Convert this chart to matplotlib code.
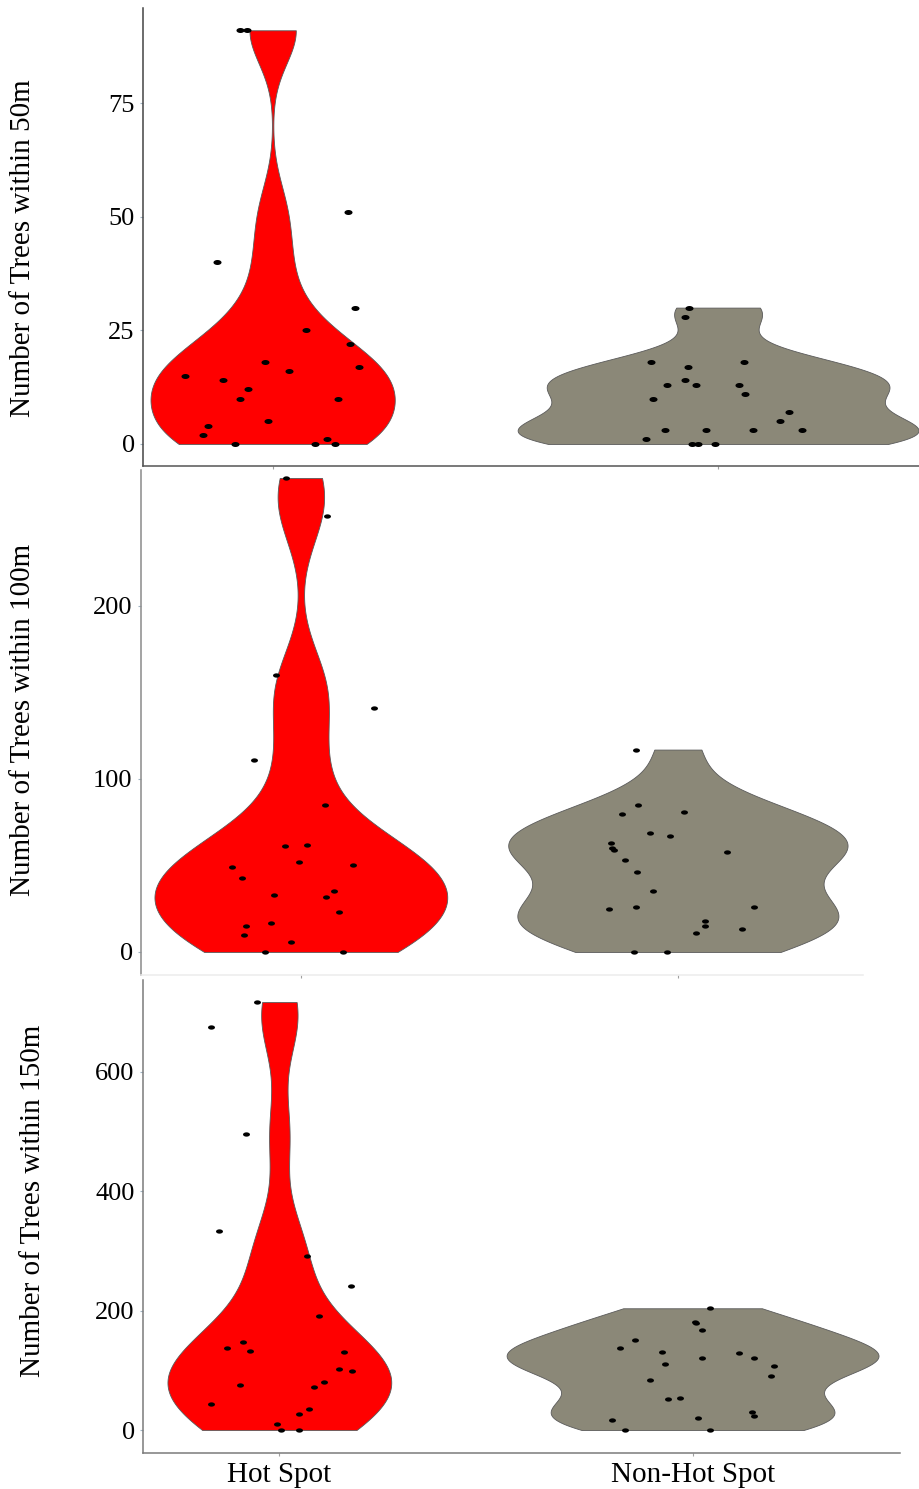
import numpy as np
import matplotlib
matplotlib.use("Agg")
import matplotlib.pyplot as plt
from matplotlib import mlab
from matplotlib.path import Path

plt.rcParams["font.family"] = ["Liberation Serif", "DejaVu Serif"]

# ── data: tree counts per site, split by hot spot status ─────────────────────
groups = ["Hot Spot", "Non-Hot Spot"]

hot_50 = [91, 91, 51, 40, 30, 25, 22, 18, 17, 16, 15, 14, 12, 10, 10, 5, 4, 2,
          0, 0, 1, 0]
non_50 = [30, 28, 18, 18, 17, 14, 13, 13, 13, 11, 10, 7, 5, 3, 3, 3, 3, 1,
          0, 0, 0]

hot_100 = [274, 252, 160, 141, 111, 85, 62, 61, 52, 50, 49, 43, 35, 33, 32,
           23, 17, 15, 10, 6, 0, 0]
non_100 = [117, 85, 81, 80, 69, 67, 63, 60, 59, 58, 53, 46, 35, 25, 26, 26,
           18, 15, 13, 11, 0, 0]

hot_150 = [717, 675, 496, 333, 292, 242, 191, 147, 137, 133, 131, 102, 99,
           81, 72, 76, 44, 36, 27, 10, 0, 0]
non_150 = [204, 181, 179, 168, 150, 137, 131, 129, 121, 120, 111, 108, 90,
           84, 54, 52, 31, 23, 20, 17, 0, 0]

# horizontal jitter of each point (category units), same order as the values
hot_50_jit = [-0.074, -0.058, 0.169, -0.124, 0.184, 0.076, 0.173, -0.018,
              0.193, 0.036, -0.196, -0.112, -0.056, -0.074, 0.146, -0.011,
              -0.146, -0.157, -0.085, 0.094, 0.121, 0.139]
non_50_jit = [-0.065, -0.074, -0.151, 0.058, -0.067, -0.075, -0.114, -0.049,
              0.046, 0.060, -0.147, 0.160, 0.139, -0.119, -0.028, 0.079,
              0.189, -0.162, -0.059, -0.044, -0.007]
hot_100_jit = [-0.040, 0.069, -0.066, 0.193, -0.125, 0.064, 0.016, -0.042,
               -0.005, 0.138, -0.183, -0.156, 0.087, -0.072, 0.066, 0.101,
               -0.079, -0.146, -0.151, -0.026, -0.095, 0.111]
non_100_jit = [-0.112, -0.107, 0.016, -0.148, -0.074, -0.022, -0.177, -0.174,
               -0.169, 0.131, -0.140, -0.109, -0.067, -0.182, -0.112, 0.201,
               0.073, 0.071, 0.169, 0.048, -0.117, -0.030]
hot_150_jit = [-0.054, -0.166, -0.080, -0.147, 0.067, 0.173, 0.096, -0.088,
               -0.127, -0.070, 0.157, 0.145, 0.175, 0.108, 0.083, -0.096,
               -0.166, 0.071, 0.048, -0.005, 0.005, 0.048]
non_150_jit = [0.041, 0.007, 0.009, 0.024, -0.139, -0.176, -0.074, 0.113,
               0.149, 0.024, -0.067, 0.197, 0.189, -0.102, -0.030, -0.059,
               0.144, 0.149, 0.012, -0.196, -0.164, 0.041]

y_labels = ["Number of Trees within 50m", "Number of Trees within 100m",
            "Number of Trees within 150m"]
y_ticks = [[0, 25, 50, 75], [0, 100, 200], [0, 200, 400, 600]]

FILL = ["#FF0000", "#8B8878"]

# ── layout (figure pixels) ───────────────────────────────────────────────────
W, H = 919, 1489
panels = [
    dict(box=(143, 919, 8, 466), xlim=(0.709, 2.451), ylim=(-4.84, 95.9),
         spine="#444444", xspine="#555555", lab=(23, 248), ms=5.8),
    dict(box=(141, 863, 470, 975), xlim=(0.576, 2.491), ylim=(-13.3, 278.6),
         spine="#8a8a8a", xspine="#ececec", lab=(23, 720), ms=5.0),
    dict(box=(143, 900, 980, 1453), xlim=(0.670, 2.502), ylim=(-38.5, 754.0),
         spine="#7a7a7a", xspine="#7a7a7a", lab=(33, 1201), ms=5.0),
]
data = [(hot_50, non_50, hot_50_jit, non_50_jit),
        (hot_100, non_100, hot_100_jit, non_100_jit),
        (hot_150, non_150, hot_150_jit, non_150_jit)]


def nrd0(kde):
    """Silverman's rule as in R's bw.nrd0, returned as a factor of the sd."""
    x = np.ravel(kde.dataset)
    sd = np.std(x, ddof=1)
    iqr = np.subtract(*np.percentile(x, [75, 25]))
    lo = min(sd, iqr / 1.34)
    if lo == 0:
        lo = sd
    return 0.9 * lo * len(x) ** -0.2 / sd


def area_widths(sets, full=0.9):
    """Violin widths proportional to peak density (ggplot's scale = 'area')."""
    peaks = []
    for v in sets:
        v = np.asarray(v, float)
        kde = mlab.GaussianKDE(v, nrd0)
        grid = np.linspace(v.min(), v.max(), 512)
        peaks.append(kde.evaluate(grid).max())
    peaks = np.array(peaks)
    return list(full * peaks / peaks.max())


# flattened ellipse for the jittered points
t = np.linspace(0, 2 * np.pi, 40)
dot = Path(np.c_[np.cos(t), 0.62 * np.sin(t)])

fig = plt.figure(figsize=(W / 100, H / 100), dpi=100)

for i, (p, (hv, nv, hj, nj)) in enumerate(zip(panels, data)):
    l, r, tp, bt = p["box"]
    ax = fig.add_axes([l / W, 1 - bt / H, (r - l) / W, (bt - tp) / H])

    sets = [hv, nv]
    parts = ax.violinplot(sets, positions=[1, 2], widths=area_widths(sets),
                          bw_method=nrd0, points=512, showextrema=False)
    for body, c in zip(parts["bodies"], FILL):
        body.set_facecolor(c)
        body.set_edgecolor("#5a5a5a")
        body.set_linewidth(0.6)
        body.set_alpha(1)
        body.set_zorder(2)

    for pos, vals, jit in [(1, hv, hj), (2, nv, nj)]:
        ax.plot(pos + np.asarray(jit), vals, ls="none", marker=dot,
                ms=p["ms"], mfc="black", mec="black", mew=0, zorder=3)

    ax.set_xlim(*p["xlim"])
    ax.set_ylim(*p["ylim"])
    ax.set_yticks(y_ticks[i])
    ax.set_xticks([1, 2])
    if i == 2:
        ax.set_xticklabels(groups, fontsize=21)
    else:
        ax.set_xticklabels([])

    for s in ["top", "right"]:
        ax.spines[s].set_visible(False)
    ax.spines["left"].set_color(p["spine"])
    ax.spines["bottom"].set_color(p["xspine"])
    for s in ["left", "bottom"]:
        ax.spines[s].set_linewidth(1.1)

    ax.tick_params(axis="y", length=2.5, width=0.8, color="#9fb3c2",
                   labelsize=19, pad=3.5)
    ax.tick_params(axis="x", length=2.5, width=0.8, color="#a0a0a0", pad=4)

    fig.text(p["lab"][0] / W, 1 - p["lab"][1] / H, y_labels[i], rotation=90,
             ha="center", va="center", fontsize=21)

fig.savefig("out.png", dpi=100)
